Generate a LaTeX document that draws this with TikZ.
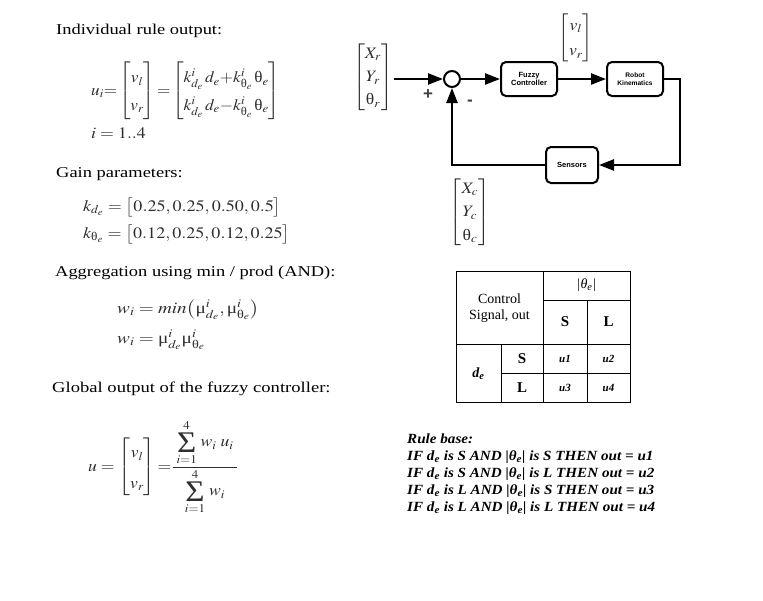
\documentclass[tikz,border=0pt]{standalone}
\usepackage{amsmath}
\usepackage{graphicx}
\usepackage{mathptmx}
\usepackage{fontspec}
\setmainfont{Liberation Serif}
\setsansfont{Liberation Sans}
\usetikzlibrary{arrows.meta}
\definecolor{mgray}{HTML}{2E2E2E}
\newcommand\hx[2][1.2]{\scalebox{#1}[1]{#2}}
\newcommand\thet{\text{θ}}
\newcommand\mmu{\text{μ}}
\newcommand\bigsum{\mathop{\vcenter{\hbox{\fontsize{30}{30}\selectfont Σ}}}\limits}
\begin{document}
\begin{tikzpicture}[x=1pt,y=-1pt,
  heading/.style={anchor=base west, inner sep=0pt, font=\fontsize{15}{18}\selectfont},
  eqn/.style={inner sep=0pt, text=mgray, font=\fontsize{16}{19}\selectfont},
  blk/.style={draw, line width=2pt, rounded corners=5pt, minimum width=56pt, minimum height=34pt, align=center, font=\sffamily\bfseries\fontsize{7.5}{8.5}\selectfont, inner sep=1pt},
  sig/.style={line width=2.4pt, -{Triangle[length=15pt,width=11pt]}},
  tbl/.style={line width=0.9pt},
  cell/.style={inner sep=0pt, font=\fontsize{14}{16}\selectfont},
  rulebase/.style={anchor=base west, inner sep=0pt, font=\bfseries\itshape\fontsize{14}{17}\selectfont}
]
\useasboundingbox (0,0) rectangle (763,600);

% ---------------- left column: formulas ----------------
\node[heading] (h1) at (56,34) {\hx[1.23]{Individual rule output:}};
\node[eqn, anchor=west] (eqA) at (91,91) {\hx[1.07]{\renewcommand\arraystretch{1.45}$u_i{=}\begin{bmatrix}v_l\\ v_r\end{bmatrix}{=}\begin{bmatrix}k^{i}_{d_e}\,d_e{+}k^{i}_{\thet_e}\,\thet_e\\ k^{i}_{d_e}\,d_e{-}k^{i}_{\thet_e}\,\thet_e\end{bmatrix}$}};
\node[eqn, anchor=base west] (eqI) at (91,138) {\hx[1.12]{$i=1..4$}};

\node[heading] (h2) at (56,177) {\hx[1.23]{Gain parameters:}};
\node[eqn, anchor=base west] (kd) at (83,211) {\hx[1.13]{$k_{d_e}=\bigl[0.25,0.25,0.50,0.5\bigr]$}};
\node[eqn, anchor=base west] (kt) at (83,238) {\hx[1.13]{$k_{\thet_e}=\bigl[0.12,0.25,0.12,0.25\bigr]$}};

\node[heading] (h3) at (55,276) {\hx[1.23]{Aggregation using min / prod (AND):}};
\node[eqn, anchor=base west] (w1) at (117,313) {\hx{$w_i=min\bigl(\mmu^{i}_{d_e},\mmu^{i}_{\thet_e}\bigr)$}};
\node[eqn, anchor=base west] (w2) at (117,343) {\hx{$w_i=\mmu^{i}_{d_e}\mmu^{i}_{\thet_e}$}};

\node[heading] (h4) at (52,392) {\hx[1.24]{Global output of the fuzzy controller:}};
\node[eqn, anchor=west] (eqG) at (88,467) {\hx[1.1]{\renewcommand\arraystretch{1.6}$u=\begin{bmatrix}v_l\\ v_r\end{bmatrix}{=}\dfrac{\;\bigsum_{i=1}^{4}\, w_i\;u_i\;}{\bigsum_{i=1}^{4}\, w_i}$}};

% ---------------- block diagram ----------------
\node[eqn, anchor=center] (ref) at (373,77) {\hx[1.1]{\renewcommand\arraystretch{1.22}$\begin{bmatrix}X_r\\ Y_r\\ \thet_r\end{bmatrix}$}};
\coordinate (inp) at (394,79);
\node[draw, circle, line width=2pt, minimum size=16pt, inner sep=0pt] (sum) at (452,79) {};
\node[blk] (fc) at (529,79) {Fuzzy\\Controller};
\node[blk, font=\sffamily\bfseries\fontsize{6.6}{7.6}\selectfont] (rk) at (635,79) {Robot\\Kinematics};
\node[blk, minimum width=52pt, minimum height=36pt] (sens) at (572,165) {Sensors};
\node[eqn, anchor=center] (vout) at (576,38) {\hx[1.1]{\renewcommand\arraystretch{1.35}$\begin{bmatrix}v_l\\ v_r\end{bmatrix}$}};
\node[eqn, anchor=center] (cur) at (470,212) {\hx[1.1]{\renewcommand\arraystretch{1.25}$\begin{bmatrix}X_c\\ Y_c\\ \thet_c\end{bmatrix}$}};
\node[inner sep=0pt, text=black!75, font=\sffamily\bfseries\fontsize{17}{17}\selectfont] (plus) at (428,95) {+};
\node[inner sep=0pt, text=black!75, font=\sffamily\bfseries\fontsize{17}{17}\selectfont] (minus) at (470,103) {-};

\draw[sig] (inp) -- (sum.west);
\draw[sig] (sum.east) -- (fc.west);
\draw[sig] (fc.east) -- (rk.west);
\draw[sig] (rk.east) -- ++(16,0) |- (sens.east);
\draw[sig] (sens.west) -| (sum.south);

% ---------------- table ----------------
\coordinate (tNW) at (456,271);
\coordinate (tSE) at (630,402);
\draw[tbl] (tNW) rectangle (tSE);
\draw[tbl] (543,271) -- (543,402);
\draw[tbl] (543,300) -- (630,300);
\draw[tbl] (587,300) -- (587,402);
\draw[tbl] (456,344) -- (630,344);
\draw[tbl] (501,344) -- (501,402);
\draw[tbl] (501,373) -- (630,373);

\node[cell, font=\itshape\fontsize{14}{16}\selectfont] (cth) at (586.5,285.5) {|θ\textsubscript{e}|};
\node[cell, align=center] (cctl) at (499.5,308) {Control\\Signal, out};
\node[cell, font=\bfseries\fontsize{15}{16}\selectfont] (cS) at (565,322) {S};
\node[cell, font=\bfseries\fontsize{15}{16}\selectfont] (cL) at (608.5,322) {L};
\node[cell, font=\bfseries\itshape\fontsize{14}{16}\selectfont] (cde) at (478.5,374) {d\textsubscript{e}};
\node[cell, font=\bfseries\fontsize{15}{16}\selectfont] (rS) at (522,358.5) {S};
\node[cell, font=\bfseries\fontsize{15}{16}\selectfont] (rL) at (522,387.5) {L};
\node[cell, font=\bfseries\itshape\fontsize{11}{12}\selectfont] (u1) at (565,359) {u1};
\node[cell, font=\bfseries\itshape\fontsize{11}{12}\selectfont] (u2) at (608.5,359) {u2};
\node[cell, font=\bfseries\itshape\fontsize{11}{12}\selectfont] (u3) at (565,388) {u3};
\node[cell, font=\bfseries\itshape\fontsize{11}{12}\selectfont] (u4) at (608.5,388) {u4};

% ---------------- rule base ----------------
\node[rulebase] (rb0) at (407,443) {\hx[1.08]{Rule base:}};
\node[rulebase] (rb1) at (407,460) {\hx[1.08]{IF d\textsubscript{e} is S AND |θ\textsubscript{e}| is S THEN out = u1}};
\node[rulebase] (rb2) at (407,477) {\hx[1.08]{IF d\textsubscript{e} is S AND |θ\textsubscript{e}| is L THEN out = u2}};
\node[rulebase] (rb3) at (407,494) {\hx[1.08]{IF d\textsubscript{e} is L AND |θ\textsubscript{e}| is S THEN out = u3}};
\node[rulebase] (rb4) at (407,511) {\hx[1.08]{IF d\textsubscript{e} is L AND |θ\textsubscript{e}| is L THEN out = u4}};
\end{tikzpicture}
\end{document}
